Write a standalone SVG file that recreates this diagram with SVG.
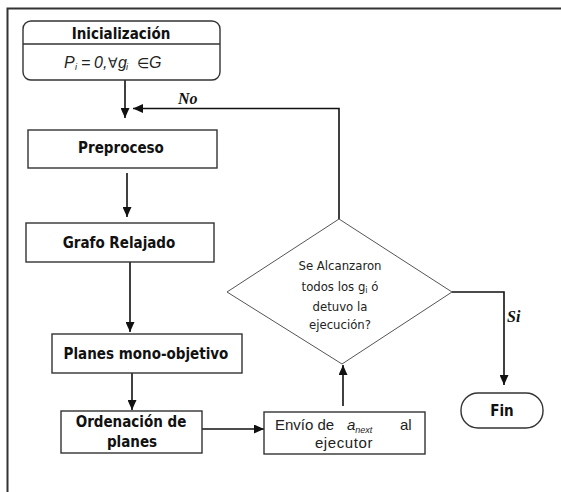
<svg xmlns="http://www.w3.org/2000/svg" width="561" height="492" viewBox="0 0 561 492">
<defs>
<marker id="ah" markerUnits="userSpaceOnUse" markerWidth="10" markerHeight="9" refX="10" refY="4.5" orient="auto">
<path d="M0,0 L10,4.5 L0,9 z" fill="#111"/>
</marker>
<style>
.box{fill:#fff;stroke:#333;stroke-width:1.4}
.dia{fill:#fff;stroke:#555;stroke-width:1}
.con{fill:none;stroke:#111;stroke-width:1.6}
.b{font-family:"DejaVu Sans Condensed","DejaVu Sans",sans-serif;font-stretch:condensed;font-weight:bold;font-size:15px;fill:#111;text-anchor:middle}
.r{font-family:"DejaVu Sans Condensed","DejaVu Sans",sans-serif;font-stretch:condensed;font-size:13px;fill:#222;text-anchor:middle}
.a{font-family:"Liberation Sans",Arial,sans-serif;font-size:15px;fill:#222}
.m{font-family:"Liberation Sans",Arial,sans-serif;font-style:italic;font-size:16px;fill:#222}
.s{font-size:9px}
.sym{font-family:"DejaVu Sans",sans-serif;font-style:normal;font-size:14px}
.lbl{font-family:"Liberation Serif","Times New Roman",serif;font-style:italic;font-weight:bold;font-size:16px;fill:#111}
</style>
</defs>
<rect width="561" height="492" fill="#fff"/>
<path d="M7.5,492 V8.5 H561" fill="none" stroke="#333" stroke-width="2"/>

<g id="connectors">
<path class="con" d="M125,80 V118" marker-end="url(#ah)"/>
<path class="con" d="M339,219 V108.5 H133" marker-end="url(#ah)"/>
<path class="con" d="M127,173 V217" marker-end="url(#ah)"/>
<path class="con" d="M130,262 V332" marker-end="url(#ah)"/>
<path class="con" d="M132,373 V410" marker-end="url(#ah)"/>
<path class="con" d="M202,429 H264" marker-end="url(#ah)"/>
<path class="con" d="M343,406 V365" marker-end="url(#ah)"/>
<path class="con" d="M452,292 H504 V385" marker-end="url(#ah)"/>
<text class="lbl" x="178" y="104">No</text>
<text class="lbl" x="507" y="322">Si</text>
</g>

<g id="inicializacion">
<rect class="box" x="23" y="21" width="197" height="59" rx="8" ry="8"/>
<line x1="23" y1="44" x2="220" y2="44" stroke="#333" stroke-width="1.4"/>
<text class="b" x="121" y="39">Inicialización</text>
<text class="m" y="68"><tspan x="64">P</tspan><tspan x="75" class="s" dy="2">i</tspan><tspan x="81" dy="-2">=</tspan><tspan x="94">0,</tspan><tspan x="108" class="sym">∀</tspan><tspan x="118">g</tspan><tspan x="126" class="s" dy="2">i</tspan><tspan x="137" class="sym" dy="-2">∈</tspan><tspan x="149">G</tspan></text>
</g>

<g id="preproceso">
<rect class="box" x="28" y="130" width="189" height="38"/>
<text class="b" x="121" y="153">Preproceso</text>
</g>

<g id="grafo">
<rect class="box" x="26" y="223" width="188" height="39"/>
<text class="b" x="119" y="248">Grafo Relajado</text>
</g>

<g id="planes">
<rect class="box" x="52" y="334" width="190" height="39"/>
<text class="b" x="146" y="359">Planes mono-objetivo</text>
</g>

<g id="ordenacion">
<rect class="box" x="61" y="411" width="141" height="42"/>
<text class="b" x="131" y="427">Ordenación de</text>
<text class="b" x="132" y="447">planes</text>
</g>

<g id="envio">
<rect class="box" x="264" y="412" width="161" height="42"/>
<text class="a" x="275" y="430">Envío de</text>
<text class="a" x="347" y="430" font-style="italic">a<tspan font-size="9" dy="3">next</tspan></text>
<text class="a" x="400" y="430">al</text>
<text class="a" x="344" y="448" text-anchor="middle" letter-spacing="0.6">ejecutor</text>
</g>

<g id="decision">
<polygon class="dia" points="339,219 452,292 342,364 227,292"/>
<text class="r" x="340" y="270">Se Alcanzaron</text>
<text class="r" x="340" y="291">todos los g<tspan font-size="9" dy="2">i</tspan><tspan dy="-2"> ó</tspan></text>
<text class="r" x="340" y="311">detuvo la</text>
<text class="r" x="340" y="329">ejecución?</text>
</g>

<g id="fin">
<rect class="box" x="461" y="393" width="82" height="35" rx="17" ry="17" stroke-width="1.6"/>
<text class="b" x="502" y="416">Fin</text>
</g>
</svg>
